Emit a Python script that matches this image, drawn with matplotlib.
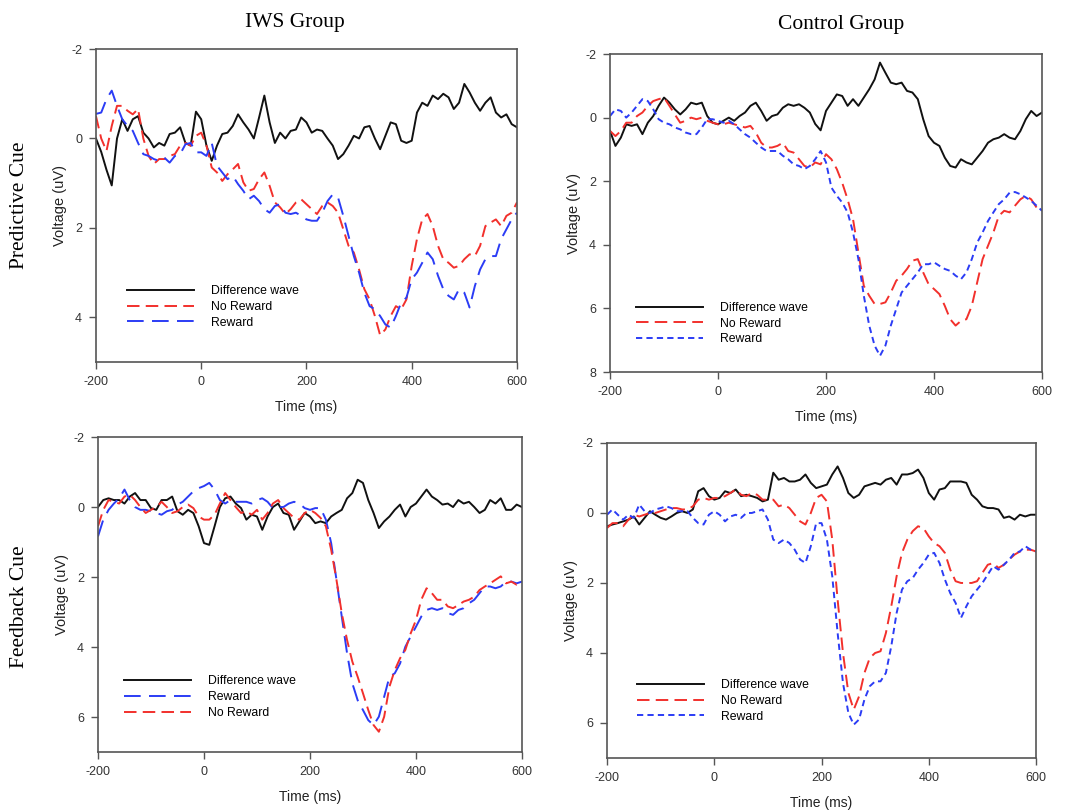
import numpy as np
import matplotlib
matplotlib.use("Agg")
import matplotlib.pyplot as plt

plt.rcParams['font.family'] = ['Liberation Sans', 'DejaVu Sans']
plt.rcParams['lines.scale_dashes'] = False
plt.rcParams['axes.unicode_minus'] = False

time_ms = np.arange(-200, 601, 10)

# IWS group, predictive cue
iws_pred_diff = [0.0, 0.3, 0.7, 1.05, 0.0, -0.43, -0.17, -0.43, -0.5, -0.13,
                 0.0, 0.2, 0.1, 0.16, -0.1, -0.13, -0.25, 0.1, 0.16, -0.6,
                 -0.43, 0.16, 0.5, 0.16, -0.1, -0.13, -0.28, -0.54, -0.36, -0.2,
                 0.0, -0.47, -0.96, -0.36, 0.1, -0.13, 0.0, -0.17, -0.2, -0.47,
                 -0.36, -0.13, -0.2, -0.17, 0.0, 0.16, 0.46, 0.35, 0.16, -0.06,
                 0.0, -0.25, -0.28, 0.0, 0.24, -0.06, -0.36, -0.32, 0.05, 0.1,
                 0.05, -0.58, -0.8, -0.73, -0.96, -0.88, -1.0, -0.92, -0.66, -0.8,
                 -1.22, -1.03, -0.8, -0.62, -0.8, -0.92, -0.58, -0.47, -0.54, -0.32,
                 -0.25]
iws_pred_norew = [-0.5, 0.0, 0.28, -0.28, -0.73, -0.73, -0.62, -0.54, -0.66, 0.0,
                  0.39, 0.57, 0.46, 0.46, 0.39, 0.35, 0.16, 0.1, 0.16, -0.06,
                  -0.13, 0.16, 0.65, 0.76, 0.95, 0.8, 0.69, 0.57, 0.98, 1.17,
                  1.13, 0.91, 0.76, 1.06, 1.43, 1.54, 1.69, 1.58, 1.43, 1.36,
                  1.47, 1.58, 1.69, 1.51, 1.43, 1.51, 1.66, 2.03, 2.4, 2.55,
                  2.93, 3.37, 3.6, 3.97, 4.4, 4.27, 3.97, 3.75, 3.82, 3.6,
                  2.85, 2.25, 1.81, 1.69, 1.96, 2.4, 2.7, 2.78, 2.89, 2.85,
                  2.7, 2.59, 2.63, 2.4, 1.96, 1.88, 1.81, 1.96, 1.73, 1.66,
                  1.43]
iws_pred_rew = [-0.55, -0.58, -0.88, -1.07, -0.73, -0.43, -0.28, -0.17, 0.1, 0.35,
                0.39, 0.46, 0.5, 0.43, 0.54, 0.39, 0.35, 0.13, 0.1, 0.31,
                0.31, 0.39, 0.1, 0.61, 0.76, 0.91, 0.84, 1.02, 1.17, 1.36,
                1.28, 1.4, 1.58, 1.66, 1.51, 1.47, 1.66, 1.69, 1.66, 1.73,
                1.81, 1.84, 1.84, 1.66, 1.4, 1.25, 1.32, 1.73, 2.18, 2.63,
                3.0, 3.45, 3.75, 3.82, 3.97, 4.16, 4.23, 3.97, 3.67, 3.56,
                3.15, 3.0, 2.78, 2.55, 2.7, 3.07, 3.37, 3.52, 3.6, 3.37,
                3.45, 3.78, 3.3, 2.93, 2.7, 2.63, 2.63, 2.25, 2.03, 1.81,
                1.66]

# Control group, predictive cue
ctl_pred_diff = [0.42, 0.89, 0.63, 0.21, 0.26, 0.21, 0.52, 0.16, -0.05, -0.37,
                 -0.63, -0.47, -0.26, -0.1, -0.26, -0.47, -0.42, -0.47, -0.05, 0.16,
                 0.21, 0.1, 0.0, 0.1, -0.05, -0.16, -0.37, -0.47, -0.21, 0.1,
                 -0.05, -0.1, -0.31, -0.42, -0.37, -0.42, -0.31, -0.16, 0.2, 0.4,
                 -0.21, -0.47, -0.73, -0.68, -0.37, -0.58, -0.37, -0.63, -0.89, -1.2,
                 -1.73, -1.41, -1.1, -1.05, -1.1, -0.84, -0.79, -0.58, 0.05, 0.58,
                 0.79, 0.89, 1.26, 1.52, 1.57, 1.31, 1.41, 1.47, 1.26, 1.05,
                 0.79, 0.68, 0.63, 0.52, 0.63, 0.68, 0.42, 0.05, -0.21, -0.05,
                 -0.16]
ctl_pred_norew = [0.42, 0.58, 0.42, 0.16, 0.16, -0.05, -0.16, -0.37, -0.52, -0.58,
                  -0.63, -0.37, -0.1, 0.16, 0.1, 0.0, 0.05, 0.0, 0.1, 0.16,
                  0.21, 0.21, 0.16, 0.21, 0.26, 0.31, 0.26, 0.47, 0.79, 0.94,
                  0.94, 0.89, 0.79, 1.05, 1.1, 1.31, 1.52, 1.57, 1.41, 1.47,
                  1.15, 1.31, 1.62, 2.05, 2.57, 3.19, 4.24, 5.29, 5.6, 5.86,
                  5.86, 5.81, 5.5, 5.13, 4.97, 4.76, 4.5, 4.45, 4.87, 5.24,
                  5.39, 5.55, 5.92, 6.34, 6.54, 6.39, 6.34, 5.92, 5.18, 4.45,
                  4.03, 3.61, 3.09, 2.93, 2.98, 2.77, 2.57, 2.46, 2.57, 2.83,
                  2.83]
ctl_pred_rew = [-0.05, -0.26, -0.21, 0.0, -0.16, -0.37, -0.58, -0.52, -0.26, 0.05,
                0.16, 0.21, 0.31, 0.37, 0.47, 0.52, 0.52, 0.31, 0.05, 0.05,
                0.1, 0.16, 0.1, 0.21, 0.37, 0.52, 0.63, 0.79, 0.94, 1.05,
                1.05, 1.05, 1.2, 1.31, 1.47, 1.52, 1.62, 1.52, 1.31, 1.05,
                1.41, 2.2, 2.46, 2.67, 2.98, 3.61, 4.45, 5.6, 6.54, 7.17,
                7.49, 7.17, 6.54, 6.02, 5.5, 5.29, 5.08, 4.87, 4.61, 4.61,
                4.55, 4.66, 4.76, 4.82, 4.97, 5.08, 4.87, 4.45, 3.93, 3.61,
                3.25, 2.98, 2.72, 2.57, 2.36, 2.34, 2.41, 2.51, 2.62, 2.77,
                2.93]

# IWS group, feedback cue
iws_fb_diff = [0.0, -0.2, -0.25, -0.2, -0.2, -0.1, -0.3, -0.4, -0.2, -0.2,
               0.03, 0.08, -0.2, -0.2, -0.3, 0.12, 0.22, 0.08, 0.17, 0.55,
               1.03, 1.08, 0.55, 0.0, -0.25, -0.3, -0.1, 0.03, 0.36, 0.22,
               0.27, 0.65, 0.27, 0.0, -0.1, 0.17, 0.22, 0.65, 0.41, 0.17,
               0.27, 0.46, 0.41, 0.46, 0.27, 0.17, 0.08, -0.25, -0.4, -0.78,
               -0.69, -0.2, 0.17, 0.6, 0.41, 0.27, 0.08, -0.07, 0.27, 0.0,
               -0.1, -0.3, -0.5, -0.3, -0.2, -0.07, -0.1, 0.0, -0.2, -0.1,
               -0.15, 0.0, 0.17, 0.08, -0.2, -0.1, -0.25, 0.08, 0.08, -0.07,
               0.0]
iws_fb_rew = [0.84, 0.36, 0.08, -0.1, -0.25, -0.5, -0.2, 0.0, 0.08, 0.08,
              0.12, 0.17, 0.22, 0.12, 0.08, -0.07, -0.15, -0.3, -0.45, -0.54,
              -0.6, -0.69, -0.5, -0.2, -0.1, -0.2, -0.15, -0.15, -0.15, -0.1,
              -0.2, -0.25, -0.15, 0.03, 0.0, 0.0, -0.1, -0.15, -0.1, 0.03,
              0.08, 0.03, 0.03, 0.36, 1.03, 2.08, 3.13, 4.18, 5.04, 5.52,
              5.8, 6.09, 6.23, 5.99, 5.42, 4.85, 4.75, 4.47, 3.99, 3.7,
              3.42, 3.13, 2.94, 2.89, 2.94, 2.89, 3.03, 3.08, 2.94, 2.89,
              2.75, 2.65, 2.46, 2.27, 2.27, 2.32, 2.27, 2.13, 2.13, 2.18,
              2.13]
iws_fb_norew = [0.55, 0.08, -0.2, -0.15, -0.1, -0.3, -0.35, -0.2, 0.0, 0.17,
                0.08, 0.0, -0.15, 0.0, 0.17, 0.12, 0.0, -0.07, 0.03, 0.27,
                0.36, 0.36, 0.22, -0.1, -0.4, -0.2, 0.0, 0.17, 0.12, 0.22,
                0.08, 0.36, 0.17, -0.1, -0.2, 0.03, 0.17, 0.31, 0.36, 0.17,
                0.08, 0.17, 0.31, 0.55, 1.22, 2.08, 3.03, 3.8, 4.42, 4.85,
                5.32, 5.8, 6.23, 6.42, 5.99, 5.13, 4.66, 4.32, 4.08, 3.61,
                3.23, 2.65, 2.32, 2.46, 2.65, 2.65, 2.84, 2.89, 2.8, 2.7,
                2.65, 2.56, 2.37, 2.27, 2.18, 2.08, 1.98, 2.18, 2.13, 2.22,
                2.18]

# Control group, feedback cue
ctl_fb_diff = [0.38, 0.33, 0.29, 0.24, 0.19, 0.1, 0.33, 0.14, -0.05, 0.05,
               0.14, 0.19, 0.1, 0.0, -0.05, 0.0, -0.1, -0.62, -0.71, -0.48,
               -0.38, -0.43, -0.62, -0.57, -0.67, -0.48, -0.52, -0.48, -0.43, -0.33,
               -0.38, -1.15, -0.95, -1.0, -0.9, -0.9, -0.95, -1.1, -0.86, -0.71,
               -0.76, -0.81, -1.1, -1.33, -1.0, -0.57, -0.43, -0.52, -0.76, -0.81,
               -0.86, -0.81, -0.95, -1.0, -0.81, -1.1, -1.1, -1.14, -1.24, -1.0,
               -0.57, -0.38, -0.67, -0.71, -0.9, -0.9, -0.9, -0.86, -0.52, -0.38,
               -0.19, -0.14, -0.14, -0.1, 0.14, 0.1, 0.19, 0.05, 0.1, 0.05,
               0.05]
ctl_fb_norew = [0.43, 0.29, 0.29, 0.38, 0.19, 0.05, 0.1, 0.05, 0.0, 0.0,
                -0.05, -0.1, -0.14, -0.14, -0.1, -0.1, -0.19, -0.38, -0.43, -0.38,
                -0.43, -0.43, -0.48, -0.57, -0.67, -0.52, -0.48, -0.57, -0.52, -0.38,
                -0.38, -0.38, -0.19, -0.24, -0.14, 0.05, 0.24, 0.33, 0.0, -0.43,
                -0.52, -0.33, 0.76, 2.48, 4.0, 5.14, 5.62, 5.24, 4.57, 4.14,
                4.0, 3.95, 3.43, 2.67, 1.81, 1.14, 0.76, 0.52, 0.38, 0.43,
                0.67, 0.86, 0.95, 1.14, 1.62, 1.95, 2.0, 2.0, 2.0, 1.95,
                1.71, 1.48, 1.43, 1.57, 1.48, 1.33, 1.19, 1.1, 1.05, 1.05,
                1.1]
ctl_fb_rew = [0.05, -0.1, 0.05, 0.19, 0.05, 0.14, -0.24, -0.05, 0.0, -0.1,
              -0.14, -0.19, -0.14, -0.05, -0.05, -0.05, 0.14, 0.29, 0.33, 0.05,
              -0.05, 0.05, 0.24, 0.1, 0.05, 0.14, 0.0, 0.0, -0.05, -0.1,
              0.19, 0.76, 0.86, 0.76, 0.86, 1.05, 1.33, 1.43, 0.95, 0.29,
              0.29, 0.76, 1.81, 3.43, 4.86, 5.71, 6.05, 5.9, 5.33, 4.95,
              4.81, 4.81, 4.57, 3.81, 2.86, 2.19, 1.95, 1.86, 1.62, 1.43,
              1.19, 1.14, 1.43, 1.9, 2.29, 2.57, 3.0, 2.67, 2.38, 2.19,
              2.0, 1.76, 1.52, 1.62, 1.48, 1.33, 1.14, 1.1, 0.95, 1.05,
              1.1]

BLACK = '#111111'
RED = '#f2302c'
BLUE = '#2b3cf5'
LONG_RED = (9, 4.5)
LONG_BLUE = (12, 6)
SHORT_BLUE = (4.5, 3)

fig = plt.figure(figsize=(10.65, 8.11), dpi=100)

panels = [
    # rect, ylim, yticks, series, legend anchor
    ([0.0901, 0.5536, 0.3953, 0.3859], 5, [-2, 0, 2, 4],
     [(iws_pred_diff, 'Difference wave', BLACK, None),
      (iws_pred_norew, 'No Reward', RED, LONG_RED),
      (iws_pred_rew, 'Reward', BLUE, LONG_BLUE)], (0.074, 0.245)),
    ([0.5728, 0.5413, 0.4056, 0.3921], 8, [-2, 0, 2, 4, 6, 8],
     [(ctl_pred_diff, 'Difference wave', BLACK, None),
      (ctl_pred_norew, 'No Reward', RED, LONG_RED),
      (ctl_pred_rew, 'Reward', BLUE, SHORT_BLUE)], (0.06, 0.22)),
    ([0.0920, 0.0727, 0.3981, 0.3884], 7, [-2, 0, 2, 4, 6],
     [(iws_fb_diff, 'Difference wave', BLACK, None),
      (iws_fb_rew, 'Reward', BLUE, LONG_BLUE),
      (iws_fb_norew, 'No Reward', RED, LONG_RED)], (0.061, 0.243)),
    ([0.5700, 0.0654, 0.4028, 0.3884], 7, [-2, 0, 2, 4, 6],
     [(ctl_fb_diff, 'Difference wave', BLACK, None),
      (ctl_fb_norew, 'No Reward', RED, LONG_RED),
      (ctl_fb_rew, 'Reward', BLUE, SHORT_BLUE)], (0.07, 0.25)),
]

for rect, ybottom, yticks, series, anchor in panels:
    ax = fig.add_axes(rect)
    for vals, label, color, dash in series:
        if dash is None:
            ax.plot(time_ms, vals, color=color, lw=1.4, label=label)
        else:
            ax.plot(time_ms, vals, color=color, lw=1.4, dashes=dash, label=label)
    ax.set_xlim(-200, 600)
    ax.set_ylim(ybottom, -2)
    ax.set_xticks([-200, 0, 200, 400, 600])
    ax.set_yticks(yticks)
    for s in ax.spines.values():
        s.set_color('#555555')
        s.set_linewidth(1.2)
    ax.tick_params(direction='out', length=5, width=1.0, color='#555555',
                   labelsize=9, pad=5, labelcolor='#333333')
    ax.set_xlabel('Time (ms)', fontsize=10, labelpad=9, color='#222222')
    ax.set_ylabel('Voltage (uV)', fontsize=10.5, labelpad=3, color='#222222')
    ax.legend(loc='upper left', bbox_to_anchor=anchor, frameon=False,
              fontsize=8.8, handlelength=5.5, handletextpad=1.4,
              labelspacing=0.3, borderpad=0, borderaxespad=0)

serif = ['Liberation Serif', 'DejaVu Serif']
fig.text(295 / 1065, 1 - 22 / 811, 'IWS Group', family=serif, fontsize=15.5,
         ha='center', va='center')
fig.text(841 / 1065, 1 - 25 / 811, 'Control Group', family=serif, fontsize=15.5,
         ha='center', va='center')
fig.text(20 / 1065, 1 - 205 / 811, 'Predictive Cue', family=serif, fontsize=15.5,
         ha='center', va='center', rotation=90)
fig.text(20 / 1065, 1 - 607 / 811, 'Feedback Cue', family=serif, fontsize=15.5,
         ha='center', va='center', rotation=90)

fig.savefig('out.png', dpi=100)
